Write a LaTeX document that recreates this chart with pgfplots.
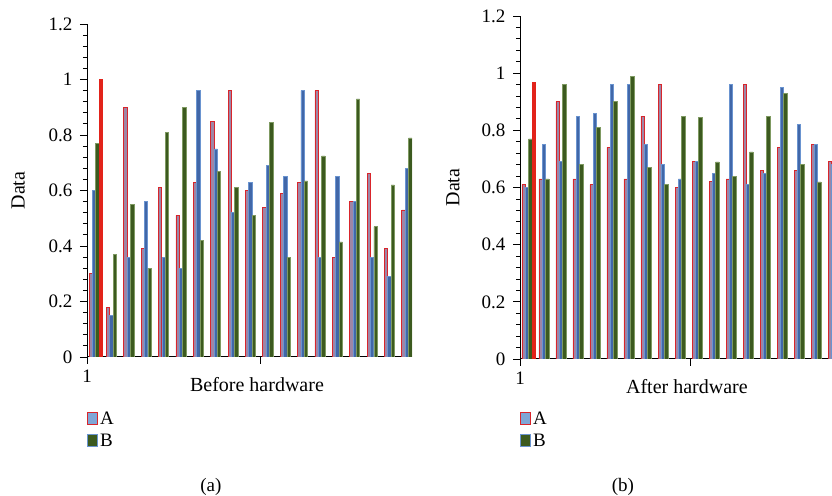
\documentclass[border=0pt]{standalone}
\usepackage{fontspec}
\setmainfont{Liberation Serif}
\usepackage{pgfplots}
\pgfplotsset{compat=1.18}

\definecolor{redA}{HTML}{D9252B}
\definecolor{fillA}{HTML}{9E86A6}
\definecolor{legA}{HTML}{7FA6D6}
\definecolor{blueB}{HTML}{6A94D0}
\definecolor{fillB}{HTML}{4167A8}
\definecolor{greenC}{HTML}{3C5A1F}
\definecolor{greenEdge}{HTML}{7F9A62}
\definecolor{redSolid}{HTML}{E2231A}

% x = group, a = red-edged, b = blue, c = green
\pgfplotstableread{
x a b c
1 0.30 0.60 0.77
2 0.18 0.15 0.37
3 0.90 0.36 0.55
4 0.39 0.56 0.32
5 0.61 0.36 0.81
6 0.51 0.32 0.90
7 0.63 0.96 0.42
8 0.85 0.75 0.67
9 0.96 0.52 0.61
10 0.60 0.63 0.51
11 0.54 0.69 0.845
12 0.59 0.65 0.36
13 0.63 0.96 0.635
14 0.96 0.36 0.725
15 0.36 0.65 0.415
16 0.56 0.56 0.93
17 0.66 0.36 0.47
18 0.39 0.29 0.62
19 0.53 0.68 0.79
}\before

\pgfplotstableread{
x a b c
1 0.61 0.60 0.77
2 0.63 0.75 0.63
3 0.90 0.69 0.96
4 0.63 0.85 0.68
5 0.61 0.86 0.81
6 0.74 0.96 0.90
7 0.63 0.96 0.99
8 0.85 0.75 0.67
9 0.96 0.68 0.61
10 0.60 0.63 0.85
11 0.69 0.69 0.845
12 0.62 0.65 0.69
13 0.63 0.96 0.64
14 0.96 0.61 0.725
15 0.66 0.65 0.85
16 0.74 0.95 0.93
17 0.66 0.82 0.68
18 0.75 0.75 0.62
19 0.69 0.68 0.68
}\after

\pgfplotsset{
  panel/.style={
    scale only axis,
    clip mode=individual,
    axis lines=left,
    axis line style={-, black, line width=1pt},
    ymin=0, ymax=1.2, xmin=0.5,
    ytick={0,0.2,0.4,0.6,0.8,1,1.2},
    minor y tick num=4,
    xtick={0.5,10.5}, xticklabels={1,{}},
    tick align=outside,
    major tick length=7pt, minor tick length=4pt,
    tick style={black, line width=0.8pt},
    /pgf/number format/assume math mode=true,
    tick label style={font=\fontsize{19}{21}\selectfont},
    yticklabel style={xshift=-4pt},
    xticklabel style={yshift=-2pt},
    label style={font=\fontsize{20}{22}\selectfont},
    legend style={draw=none, fill=none, inner sep=0pt, row sep=4pt,
      font=\fontsize{19}{21}\selectfont, legend cell align=left},
    legend image code/.code={\draw[##1] (0pt,-6pt) rectangle (10pt,6pt);},
  },
  serA/.style={ybar, bar width=0.192, bar shift=-0.288, draw=redA, fill=fillA, line width=0.8pt, forget plot},
  serB/.style={ybar, bar width=0.192, bar shift=-0.096, draw=blueB, fill=fillB, line width=0.7pt, forget plot},
  serC/.style={ybar, bar width=0.192, bar shift=0.096, draw=greenEdge, fill=greenC, line width=0.5pt, forget plot},
  serD/.style={ybar, bar width=0.192, bar shift=0.288, draw=redSolid, fill=redSolid, line width=0.3pt, forget plot},
}

\begin{document}
\begin{tikzpicture}
\useasboundingbox (0,0) rectangle (832pt,495pt);

\begin{axis}[panel,
  at={(87pt,138pt)}, anchor=south west,
  width=325pt, height=333pt, xmax=19.2,
  xlabel={Before hardware},
  xlabel style={at={(axis description cs:0.523,-0.05)}, anchor=north},
  ylabel={Data},
  ylabel style={at={(axis description cs:-0.212,0.5)}, anchor=center},
  legend style={at={(axis description cs:0.0,-0.158)}, anchor=north west},
]
\addplot[serA] table[x=x,y=a]{\before};
\addplot[serB] table[x=x,y=b]{\before};
\addplot[serC] table[x=x,y=c]{\before};
\addplot[serD] coordinates {(1,1.00)};
\addlegendimage{draw=redA, fill=legA, line width=1pt}
\addlegendentry{A}
\addlegendimage{draw=blueB, fill=greenC, line width=1pt}
\addlegendentry{B}
\node[font=\fontsize{19}{21}\selectfont] at (axis description cs:0.381,-0.39) {(a)};
\end{axis}

\begin{axis}[panel,
  at={(520pt,136pt)}, anchor=south west,
  width=312pt, height=343pt, xmax=18.85,
  xlabel={After hardware},
  xlabel style={at={(axis description cs:0.535,-0.05)}, anchor=north},
  ylabel={Data},
  ylabel style={at={(axis description cs:-0.215,0.5)}, anchor=center},
  legend style={at={(axis description cs:0.0,-0.148)}, anchor=north west},
]
\addplot[serA] table[x=x,y=a]{\after};
\addplot[serB] table[x=x,y=b]{\after};
\addplot[serC] table[x=x,y=c]{\after};
\addplot[serD] coordinates {(1,0.97)};
\addlegendimage{draw=redA, fill=legA, line width=1pt}
\addlegendentry{A}
\addlegendimage{draw=blueB, fill=greenC, line width=1pt}
\addlegendentry{B}
\node[font=\fontsize{19}{21}\selectfont] at (axis description cs:0.33,-0.373) {(b)};
\end{axis}
\end{tikzpicture}
\end{document}
